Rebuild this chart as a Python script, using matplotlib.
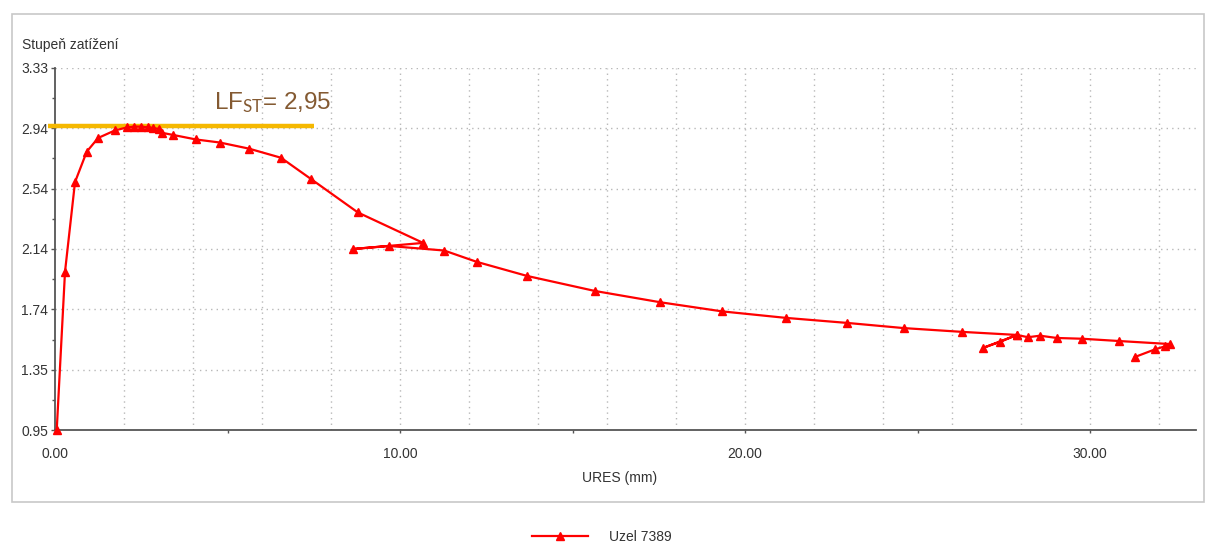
import matplotlib
matplotlib.use("Agg")
import matplotlib.pyplot as plt
from matplotlib.patches import Rectangle
from matplotlib.ticker import MultipleLocator, FixedLocator
import numpy as np

plt.rcParams.update({
    'font.family': ['Liberation Sans', 'DejaVu Sans'],
    'mathtext.fontset': 'custom',
    'mathtext.rm': 'Lato',
    'mathtext.it': 'Lato:italic',
    'mathtext.bf': 'Lato:bold',
})

# data
ures = [0.05, 0.29, 0.58, 0.92, 1.25, 1.74, 2.1, 2.3, 2.5, 2.7, 2.85, 3.0,
        3.10, 3.42, 4.09, 4.78, 5.62, 6.55, 7.42, 8.78, 10.67, 8.64, 9.68,
        11.28, 12.23, 13.68, 15.65, 17.54, 19.33, 21.19, 22.96, 24.6, 26.3,
        27.88, 26.9, 27.4, 27.88, 28.2, 28.55, 29.04, 29.77, 30.84, 32.32,
        32.17, 31.88, 31.3]
load = [0.95, 1.99, 2.58, 2.78, 2.87, 2.92, 2.94, 2.945, 2.945, 2.94, 2.935, 2.93,
        2.904, 2.89, 2.86, 2.84, 2.80, 2.74, 2.60, 2.38, 2.18, 2.14, 2.16,
        2.13, 2.055, 1.963, 1.864, 1.79, 1.73, 1.687, 1.654, 1.62, 1.595,
        1.575, 1.49, 1.53, 1.575, 1.56, 1.57, 1.555, 1.55, 1.535, 1.515,
        1.50, 1.48, 1.43]
series_name = "Uzel 7389"

lf_value = 2.95
lf_x = [-0.2, 7.5]
lf_label = r"LF$_{\mathrm{ST}}$= 2,95"

ytick_labels = ["0.95", "1.35", "1.74", "2.14", "2.54", "2.94", "3.33"]
xtick_vals = [0, 10, 20, 30]
xtick_labels = ["0.00", "10.00", "20.00", "30.00"]

W, H = 1213, 547
fig = plt.figure(figsize=(W / 100, H / 100), dpi=100)

# panel frame
frame = Rectangle((12 / W, 1 - 502 / H), (1204 - 12) / W, (502 - 14) / H,
                  transform=fig.transFigure, facecolor='white',
                  edgecolor='#c8c8c8', linewidth=1.2)
frame.set_zorder(-10)
fig.patches.append(frame)

ax = fig.add_axes([55 / W, 1 - 430 / H, (1196 - 55) / W, (430 - 68) / H])
ax.set_zorder(5)
ax.patch.set_visible(False)
ax.set_xlim(0, 33.07)
ax.set_ylim(0.95, 3.33)

ypos = np.linspace(0.95, 3.33, len(ytick_labels))
ax.set_yticks(ypos)
ax.set_yticklabels(ytick_labels)
ax.yaxis.set_minor_locator(FixedLocator((ypos[:-1] + ypos[1:]) / 2))
ax.set_xticks(xtick_vals)
ax.set_xticklabels(xtick_labels)
ax.xaxis.set_minor_locator(MultipleLocator(5))

for s in ['top', 'right']:
    ax.spines[s].set_visible(False)
for s in ['left', 'bottom']:
    ax.spines[s].set_color('#555555')
    ax.spines[s].set_linewidth(1.3)

ax.tick_params(axis='both', which='major', colors='#555555', labelcolor='#333333',
               labelsize=10, length=3, width=1)
ax.tick_params(axis='both', which='minor', colors='#555555', length=2, width=1)
ax.tick_params(axis='x', which='major', pad=10, length=2)
ax.tick_params(axis='y', which='major', pad=2)

# grid
for gx in range(2, 34, 2):
    ax.axvline(gx, color='#b8b8b8', linestyle=(0, (1, 3)), linewidth=1, zorder=1)
for gy in ypos[1:]:
    ax.axhline(gy, color='#b8b8b8', linestyle=(0, (1, 3)), linewidth=1, zorder=1)

ax.plot(ures, load, color='#ff0000', linewidth=1.6, marker='^', markersize=5.5,
        label=series_name, zorder=4, clip_on=False)

ax.plot(lf_x, [lf_value, lf_value], color='#f5b800', linewidth=3.2,
        solid_capstyle='butt', zorder=3, clip_on=False)
ax.text(4.62, 3.055, lf_label, color='#845a32', fontsize=17.5, va='baseline',
        ha='left', zorder=5)

fig.text(22 / W, 1 - 45 / H, "Stupeň zatížení", fontsize=10, color='#333333',
         ha='left', va='center')
fig.text(620 / W, 1 - 478 / H, "URES (mm)", fontsize=10, color='#333333',
         ha='center', va='center')

fig.legend(loc='center', bbox_to_anchor=(602 / W, 1 - 537 / H), frameon=False,
           fontsize=10, handlelength=4, handletextpad=1.5, labelcolor='#333333')

fig.savefig("out.png", dpi=100)
